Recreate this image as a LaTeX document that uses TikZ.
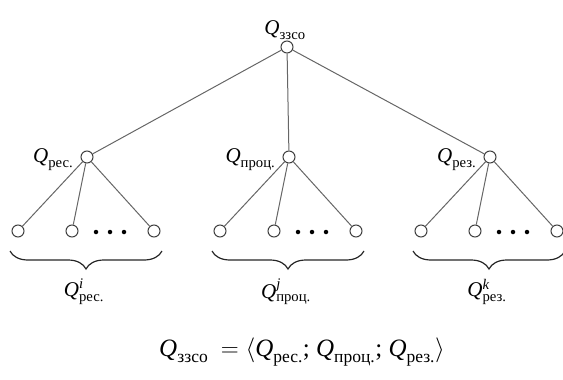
\documentclass[tikz,border=0pt]{standalone}
\usepackage{fontspec}
\usepackage{amsmath}
\setmainfont{Liberation Serif}
\usetikzlibrary{positioning,decorations.pathreplacing}

\tikzset{
  vertex/.style={circle,draw=black!75,fill=white,line width=1pt,minimum size=12pt,inner sep=0pt},
  edge/.style={draw=black!60,line width=1pt},
  dot/.style={circle,fill=black,minimum size=4.5pt,inner sep=0pt},
  group brace/.style={draw=black!85,line width=1.2pt,decorate,decoration={brace,mirror,amplitude=18pt}},
  qname/.style={font=\fontsize{21}{21}\selectfont,inner sep=1pt}
}
\newcommand{\Qq}[2][]{\textit{Q}$^{\textit{#1}}_{\text{#2}}$}

\begin{document}
\begin{tikzpicture}[x=1pt,y=-1pt]
  \useasboundingbox (0,0) rectangle (563,380);

  \node[vertex,label={[qname,xshift=-2pt]above:\Qq{ззсо}}] (root) at (287,47) {};

  \foreach \g/\x/\sub/\sup in {a/87/рес./i, b/289/проц./j, c/490/рез./k}{
    \node[vertex,label={[qname,xshift=-6pt,yshift=-3pt]left:\Qq{\sub}}] (\g) at (\x,157) {};
    \draw[edge] (root) -- (\g);
    \node[vertex] (\g1) at (\x-69,231) {};
    \node[vertex] (\g2) at (\x-15,231) {};
    \node[vertex] (\g3) at (\x+67,231) {};
    \foreach \n in {1,2,3} \draw[edge] (\g) -- (\g\n);
    \foreach \d in {9,23,37} \node[dot] at (\x+\d,232) {};
    \coordinate (\g l) at (\x-77,251);
    \coordinate (\g r) at (\x+75,251);
    \draw[group brace] (\g l) -- (\g r);
    \node[qname] (\g Q) at (\x-3,292) {\Qq[\sup]{\sub}};
  }

  \node[qname,font=\fontsize{25}{25}\selectfont] (eq) at (302,352)
    {\Qq{ззсо}\enspace$=\langle$\Qq{рес.}; \Qq{проц.}; \Qq{рез.}$\rangle$};
\end{tikzpicture}
\end{document}
